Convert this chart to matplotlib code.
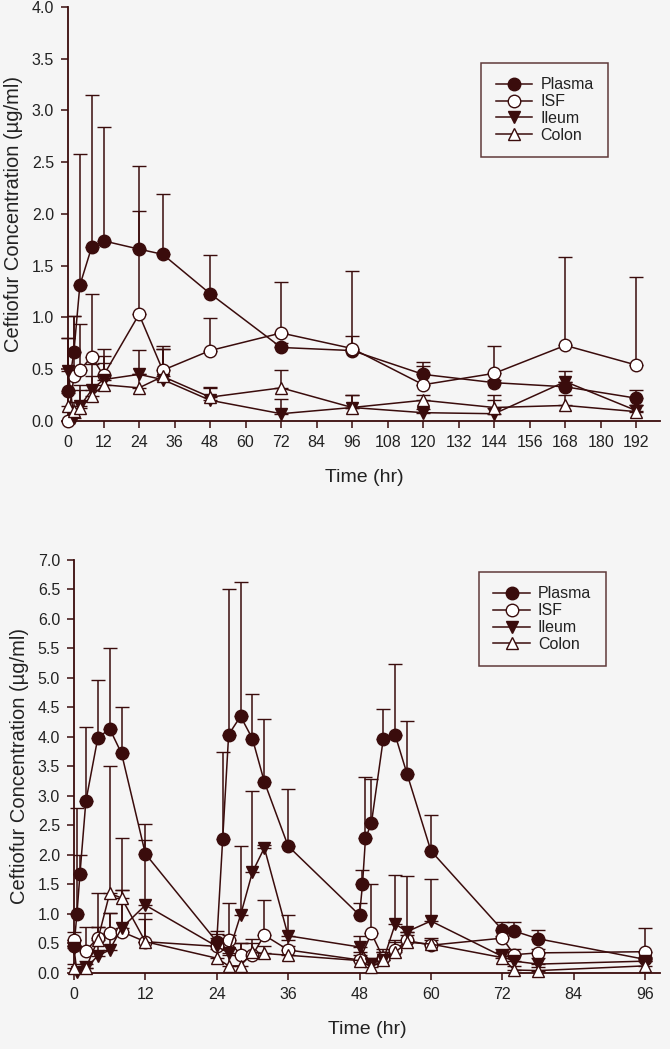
import numpy as np
import matplotlib.pyplot as plt

plt.rcParams['font.family'] = ['Liberation Sans', 'DejaVu Sans']

# ---- top panel: single dose ----
t_top = [0, 2, 4, 8, 12, 24, 32, 48, 72, 96, 120, 144, 168, 192]
plasma_top = [0.29, 0.67, 1.31, 1.68, 1.74, 1.66, 1.61, 1.23, 0.71, 0.68, 0.45, 0.37, 0.33, 0.22]
plasma_top_sd = [0.51, 0.34, 1.27, 1.47, 1.10, 0.80, 0.58, 0.37, 0.04, 0.14, 0.12, 0.03, 0.05, 0.08]
isf_top = [0.0, 0.43, 0.49, 0.62, 0.44, 1.03, 0.49, 0.68, 0.85, 0.70, 0.35, 0.46, 0.73, 0.54]
isf_top_sd = [0.0, 0.58, 0.45, 0.61, 0.26, 1.00, 0.23, 0.31, 0.49, 0.75, 0.18, 0.26, 0.85, 0.85]
ileum_top = [0.48, 0.03, 0.14, 0.30, 0.40, 0.45, 0.40, 0.20, 0.07, 0.13, 0.08, 0.07, 0.38, 0.10]
ileum_top_sd = [0.32, 0.07, 0.21, 0.13, 0.16, 0.24, 0.30, 0.12, 0.14, 0.12, 0.04, 0.18, 0.10, 0.05]
colon_top = [0.14, 0.10, 0.13, 0.24, 0.35, 0.32, 0.43, 0.23, 0.32, 0.13, 0.20, 0.13, 0.15, 0.09]
colon_top_sd = [0.13, 0.08, 0.17, 0.31, 0.28, 0.13, 0.27, 0.10, 0.17, 0.12, 0.05, 0.07, 0.10, 0.06]

# ---- bottom panel: three doses ----
t_plasma_b = [0, 0.5, 1, 2, 4, 6, 8, 12, 24, 25, 26, 28, 30, 32, 36,
              48, 48.5, 49, 50, 52, 54, 56, 60, 72, 74, 78, 96]
plasma_b = [0.45, 1.0, 1.67, 2.91, 3.98, 4.14, 3.72, 2.02, 0.53, 2.27, 4.04, 4.35, 3.97, 3.24, 2.15,
            0.98, 1.50, 2.28, 2.54, 3.97, 4.03, 3.37, 2.07, 0.73, 0.71, 0.58, 0.23]
plasma_b_sd = [0.0, 1.80, 0.33, 1.26, 0.99, 1.37, 0.79, 0.50, 0.18, 1.48, 2.47, 2.28, 0.76, 1.06, 0.96,
               0.21, 0.25, 1.04, 0.74, 0.50, 1.20, 0.90, 0.61, 0.13, 0.15, 0.14, 0.04]
t_tissue_b = [0, 2, 4, 6, 8, 12, 24, 26, 28, 30, 32, 36, 48, 50, 52, 54, 56, 60, 72, 74, 78, 96]
isf_b = [0.56, 0.38, 0.59, 0.67, 0.70, 0.53, 0.45, 0.56, 0.30, 0.30, 0.64, 0.39, 0.22, 0.67,
         0.25, 0.39, 0.55, 0.47, 0.59, 0.31, 0.34, 0.36]
isf_b_sd = [0.14, 0.40, 0.77, 0.35, 0.71, 0.49, 0.15, 0.62, 0.21, 0.28, 0.60, 0.16, 0.13, 0.83,
            0.15, 0.13, 0.10, 0.08, 0.03, 0.09, 0.06, 0.40]
t_ileum_b = [0, 0.5, 2, 4, 6, 8, 12, 24, 26, 28, 30, 32, 36, 48, 50, 52, 54, 56, 60, 72, 74, 78, 96]
ileum_b = [0.42, 0.02, 0.08, 0.29, 0.39, 0.76, 1.15, 0.45, 0.34, 0.98, 1.71, 2.12, 0.63, 0.44,
           0.16, 0.22, 0.83, 0.70, 0.88, 0.28, 0.20, 0.15, 0.20]
ileum_b_sd = [0.13, 0.05, 0.12, 0.49, 0.62, 0.64, 1.10, 0.21, 0.30, 1.17, 1.38, 0.05, 0.35, 0.18,
              0.09, 0.13, 0.83, 0.94, 0.71, 0.07, 0.10, 0.10, 0.05]
colon_b = [0.08, 0.08, 0.56, 1.35, 1.27, 0.53, 0.25, 0.12, 0.12, 0.35, 0.33, 0.30, 0.21, 0.10,
           0.22, 0.35, 0.52, 0.49, 0.26, 0.05, 0.04, 0.12]
colon_b_sd = [0.07, 0.07, 0.22, 2.16, 1.02, 0.39, 0.15, 0.18, 0.39, 0.15, 0.12, 0.15, 0.09, 0.10,
              0.13, 0.20, 0.18, 0.11, 0.14, 0.07, 0.06, 0.08]

C = '#3a0c0c'
BG = '#f5f5f5'
TXT = '#222222'


def draw(ax, series, xmax, xticks, ymax, legend_xy):
    handles = []
    for t, y, sd, marker, face, label in series:
        lo = np.zeros(len(sd))
        eb = ax.errorbar(t, y, yerr=[lo, sd], fmt='-', marker=marker, color=C, mfc=face, mec=C,
                         ms=9, mew=1.0, lw=1.1, elinewidth=1.1, capsize=5, capthick=1.1,
                         clip_on=False, zorder=3)
        for a in eb.lines[1]:
            a.set_clip_on(False)
        for a in eb.lines[2]:
            a.set_clip_on(False)
        handles.append((eb.lines[0], label))
    ax.set_xlim(0, xmax)
    ax.set_ylim(0, ymax)
    ax.set_xticks(xticks)
    ax.set_yticks(np.arange(0, ymax + 0.01, 0.5))
    ax.yaxis.set_major_formatter(plt.FormatStrFormatter('%.1f'))
    ax.spines['top'].set_visible(False)
    ax.spines['right'].set_visible(False)
    for s in ['left', 'bottom']:
        ax.spines[s].set_color(C)
        ax.spines[s].set_linewidth(1.3)
    ax.tick_params(direction='out', length=5, width=1.1, color=C, labelsize=11.5,
                   labelcolor=TXT, pad=5)
    ax.set_facecolor(BG)
    ax.set_xlabel('Time (hr)', fontsize=14, color=TXT, labelpad=14)
    ax.set_ylabel('Ceftiofur Concentration (µg/ml)', fontsize=14.5, color=TXT, labelpad=6)
    leg = ax.legend([h for h, _ in handles], [l for _, l in handles],
                    loc='upper left', bbox_to_anchor=legend_xy, frameon=True, fancybox=False,
                    fontsize=11.5, borderpad=0.9, handlelength=2.3, handletextpad=0.5,
                    labelspacing=0.12, borderaxespad=0)
    leg.get_frame().set_edgecolor(C)
    leg.get_frame().set_linewidth(1.1)
    leg.get_frame().set_facecolor(BG)
    for txt in leg.get_texts():
        txt.set_color(TXT)


fig = plt.figure(figsize=(6.7, 10.49), dpi=100, facecolor=BG)
ax1 = fig.add_axes([0.1015, 0.5987, 0.8836, 0.3947])
ax2 = fig.add_axes([0.1104, 0.0725, 0.8746, 0.3937])

top_series = [
    (t_top, plasma_top, plasma_top_sd, 'o', C, 'Plasma'),
    (t_top, isf_top, isf_top_sd, 'o', 'white', 'ISF'),
    (t_top, ileum_top, ileum_top_sd, 'v', C, 'Ileum'),
    (t_top, colon_top, colon_top_sd, '^', 'white', 'Colon'),
]
bottom_series = [
    (t_plasma_b, plasma_b, plasma_b_sd, 'o', C, 'Plasma'),
    (t_tissue_b, isf_b, isf_b_sd, 'o', 'white', 'ISF'),
    (t_ileum_b, ileum_b, ileum_b_sd, 'v', C, 'Ileum'),
    (t_tissue_b, colon_b, colon_b_sd, '^', 'white', 'Colon'),
]

draw(ax1, top_series, 200, np.arange(0, 193, 12), 4.0, (0.698, 0.865))
draw(ax2, bottom_series, 98.5, np.arange(0, 97, 12), 7.0, (0.691, 0.971))

fig.savefig('out.png', dpi=100, facecolor=BG)
